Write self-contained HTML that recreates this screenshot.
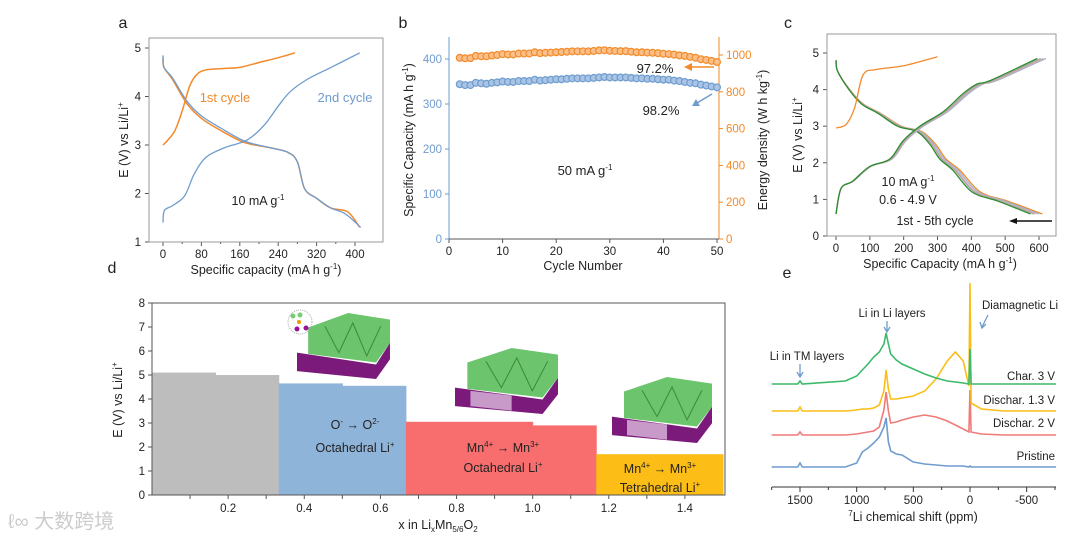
<!DOCTYPE html>
<html><head><meta charset="utf-8"><style>
body{margin:0;background:#fff;}
svg{display:block;font-family:"Liberation Sans","Noto Sans CJK SC",sans-serif;}
text{fill:#222;}
</style></head><body>
<svg id="fig" width="1080" height="541" viewBox="0 0 1080 541">
<text x="8" y="528" font-size="20" style="fill:#ccc">ℓ∞ 大数跨境</text>
</svg>
<script>
// ---------- DATA ----------
// panel a
const aCh1X=[0,10,25,40,55,70,90,130,160,200,240,275];
const aCh1Y=[3.0,3.1,3.3,3.7,4.2,4.45,4.55,4.58,4.6,4.7,4.8,4.9];
const aDis1X=[0,2,20,50,80,120,170,220,260,280,295,320,350,385,410];
const aDis1Y=[4.8,4.6,4.35,3.85,3.55,3.3,3.05,2.95,2.85,2.65,2.1,1.9,1.7,1.62,1.3];
const aDis2X=[0,2,20,50,80,120,170,220,260,280,295,320,350,380,412];
const aDis2Y=[4.85,4.6,4.38,3.9,3.6,3.35,3.08,2.95,2.85,2.65,2.1,1.9,1.7,1.58,1.3];
const aCh2X=[0,3,20,45,65,90,130,175,210,240,265,300,350,410];
const aCh2Y=[1.4,1.65,1.75,1.95,2.4,2.75,2.95,3.1,3.4,3.8,4.1,4.35,4.6,4.9];
// panel b
const bCycles=[2,3,4,5,6,7,8,9,10,11,12,13,14,15,16,17,18,19,20,21,22,23,24,25,26,27,28,29,30,31,32,33,34,35,36,37,38,39,40,41,42,43,44,45,46,47,48,49,50];
const bCap=[344,342,342,347,346,345,347,348,350,349,349,351,351,351,354,352,353,354,355,355,356,357,357,357,357,358,359,360,359,359,359,359,358,357,357,356,356,355,354,354,352,351,349,347,346,343,341,339,337];
const bEnergy=[985,982,983,995,993,993,997,1000,1005,1003,1003,1008,1008,1008,1015,1010,1012,1013,1015,1016,1018,1020,1020,1020,1020,1022,1025,1026,1023,1022,1021,1021,1018,1015,1015,1013,1012,1010,1007,1005,1002,998,995,990,985,977,973,968,962];
// panel c
const cDisBaseX=[0,5,40,80,130,190,250,290,320,360,420,500,600];
const cDisBaseY=[4.8,4.5,4.0,3.6,3.35,3.0,2.85,2.5,2.1,1.8,1.2,0.95,0.6];
const cChBaseX=[0,15,50,100,160,200,250,320,380,420,460,600];
const cChBaseY=[0.6,1.3,1.5,1.9,2.1,2.6,3.0,3.4,3.9,4.15,4.25,4.85];
const cDisEnd=[610,600,590,585,575];
const cChEnd=[620,612,605,595];
const cCh1X=[0,30,55,80,120,200,300];
const cCh1Y=[2.95,3.05,3.5,4.4,4.55,4.65,4.9];
// panel d
const dX0=[0,0.167,0.333,0.5,0.667,1.0,1.167];
const dX1=[0.167,0.333,0.5,0.667,1.0,1.167,1.5];
const dV=[5.1,5.0,4.65,4.55,3.05,2.9,1.7];
// panel e (ppm, intensity above baseline in px units)
const ePpm=[1750,1520,1500,1480,1100,1000,950,900,850,800,760,740,720,700,650,600,500,400,300,200,130,60,10,0,-10,-100,-300,-760];
const eGreen=[0,0,3,0,3,8,14,20,27,32,40,51,40,30,24,20,15,10,6,3,2,1,0,35,0,0,0,0];
const eYellow=[0,0,4,0,0,1,2,2,3,6,20,41,22,12,12,13,15,20,32,50,59,50,25,128,8,2,0,0];
const eRed=[0,0,3,0,0,1,2,3,4,8,25,43,24,12,13,15,18,20,18,14,10,6,3,45,3,1,0,0];
const eBlue=[0,0,4,0,0,4,15,19,24,30,40,49,25,16,13,12,5,3,2,1,1,1,0,1,0,0,0,0];

// ---------- HELPERS ----------
const svg=document.getElementById('fig');
const NS='http://www.w3.org/2000/svg';
function mk(tag,attrs,parent){const e=document.createElementNS(NS,tag);for(const k in attrs)e.setAttribute(k,attrs[k]);(parent||svg).appendChild(e);return e;}
function txt(x,y,s,size,anchor,color,parent){const t=mk('text',{x:x,y:y,'font-size':size||11,'text-anchor':anchor||'middle'},parent);if(color)t.style.fill=color;t.innerHTML=s;return t;}
function lin(d0,d1,r0,r1){return v=>r0+(v-d0)/(d1-d0)*(r1-r0);}
function pathD(xs,ys,fx,fy){return xs.map((x,i)=>(i?'L':'M')+fx(x).toFixed(1)+','+fy(ys[i]).toFixed(1)).join(' ');}
function smoothD(xs,ys,fx,fy){
 const P=xs.map((x,i)=>[fx(x),fy(ys[i])]);let d='M'+P[0][0].toFixed(1)+','+P[0][1].toFixed(1);
 for(let i=0;i<P.length-1;i++){const p0=P[i-1]||P[i],p1=P[i],p2=P[i+1],p3=P[i+2]||p2;
  const c1=[p1[0]+(p2[0]-p0[0])/6,p1[1]+(p2[1]-p0[1])/6],c2=[p2[0]-(p3[0]-p1[0])/6,p2[1]-(p3[1]-p1[1])/6];
  d+=' C'+c1.map(v=>v.toFixed(1)).join(',')+' '+c2.map(v=>v.toFixed(1)).join(',')+' '+p2.map(v=>v.toFixed(1)).join(',');}
 return d;}
function box(x0,y0,x1,y1,color){mk('rect',{x:x0,y:y0,width:x1-x0,height:y1-y0,fill:'none',stroke:color||'#777','stroke-width':1});}
const OR='#f28a2a',BL='#6f9ccf';

// ---------- PANEL A ----------
{
const g=mk('g',{});
const fx=lin(0,400,163,355),fy=lin(1,5,242,48);
box(149,38,383,242,'#999');
txt(123,28,'a',16,'middle');
[0,80,160,240,320,400].forEach(v=>{mk('line',{x1:fx(v),y1:242,x2:fx(v),y2:246,stroke:'#555'},g);txt(fx(v),258,v,11.5,'middle',null,g);});
[40,120,200,280,360].forEach(v=>mk('line',{x1:fx(v),y1:242,x2:fx(v),y2:244,stroke:'#555'},g));
[1,2,3,4,5].forEach(v=>{mk('line',{x1:149,y1:fy(v),x2:145,y2:fy(v),stroke:'#555'},g);txt(141,fy(v)+4,v,11.5,'end',null,g);});
txt(266,274,'Specific capacity (mA h g<tspan dy="-5" font-size="8">-1</tspan><tspan dy="5">)</tspan>',12.5,'middle',null,g);
const yl=txt(0,0,'E (V) vs Li/Li<tspan dy="-5" font-size="8">+</tspan>',12.5,'middle',null,g);yl.setAttribute('transform','translate(128,140) rotate(-90)');
const p1=mk('path',{d:smoothD(aDis1X,aDis1Y,fx,fy),fill:'none',stroke:OR,'stroke-width':1.5},g);
const p2=mk('path',{d:smoothD(aDis2X,aDis2Y,fx,fy),fill:'none',stroke:BL,'stroke-width':1.3},g);
const p3=mk('path',{d:smoothD(aCh2X,aCh2Y,fx,fy),fill:'none',stroke:BL,'stroke-width':1.3},g);
const p4=mk('path',{d:smoothD(aCh1X,aCh1Y,fx,fy),fill:'none',stroke:OR,'stroke-width':1.5},g);
txt(225,102,'1st cycle',13,'middle',OR,g);
txt(345,102,'2nd cycle',13,'middle',BL,g);
txt(258,205,'10 mA g<tspan dy="-5" font-size="8">-1</tspan>',12.5,'middle',null,g);
}

// ---------- PANEL B ----------
{
const g=mk('g',{});
const fx=lin(0,50,449,717),fy=lin(0,400,239,59),fy2=lin(0,1000,239,55);
mk('line',{x1:449,y1:37,x2:449,y2:239,stroke:BL},g);
mk('line',{x1:719,y1:37,x2:719,y2:239,stroke:OR},g);
mk('line',{x1:449,y1:239,x2:719,y2:239,stroke:'#555'},g);
txt(403,28,'b',16,'middle');
[0,10,20,30,40,50].forEach(v=>{mk('line',{x1:fx(v),y1:239,x2:fx(v),y2:243,stroke:'#555'},g);txt(fx(v),255,v,11.5,'middle',null,g);});
[0,100,200,300,400].forEach(v=>{mk('line',{x1:449,y1:fy(v),x2:445,y2:fy(v),stroke:BL},g);txt(442,fy(v)+4,v,11.5,'end',BL,g);});
[0,200,400,600,800,1000].forEach(v=>{mk('line',{x1:719,y1:fy2(v),x2:723,y2:fy2(v),stroke:OR},g);txt(726,fy2(v)+4,v,11.5,'start',OR,g);});
txt(583,270,'Cycle Number',12.5,'middle',null,g);
let t=txt(0,0,'Specific Capacity (mA h g<tspan dy="-5" font-size="8">-1</tspan><tspan dy="5">)</tspan>',12.5,'middle',null,g);t.setAttribute('transform','translate(413,140) rotate(-90)');
t=txt(0,0,'Energy density (W h kg<tspan dy="-5" font-size="8">-1</tspan><tspan dy="5">)</tspan>',12.5,'middle',null,g);t.setAttribute('transform','translate(767,140) rotate(-90)');
bCycles.forEach((c,i)=>{
 const a=mk('circle',{cx:fx(c),cy:fy(bCap[i]),r:3.4,fill:'#a9c4e4',stroke:BL,'stroke-width':1.2},g);
 
 const b=mk('circle',{cx:fx(c),cy:fy2(bEnergy[i]),r:3.4,fill:'#fbc08a',stroke:OR,'stroke-width':1.2},g);
 
});
txt(655,73,'97.2%',13,'middle',null,g);
mk('line',{x1:714,y1:67,x2:690,y2:67,stroke:OR,'stroke-width':1.5},g);
mk('path',{d:'M684,67 L692,63 L692,71 Z',fill:OR},g);
txt(661,115,'98.2%',13,'middle',null,g);
mk('line',{x1:712,y1:94,x2:697,y2:103,stroke:BL,'stroke-width':1.5},g);
mk('path',{d:'M692,106 L696,99 L700,106 Z',fill:BL},g);
txt(585,175,'50 mA g<tspan dy="-5" font-size="8">-1</tspan>',13,'middle',null,g);
}

// ---------- PANEL C ----------
{
const g=mk('g',{});
const fx=lin(0,600,836,1039),fy=lin(0,5,236,53);
box(827,34,1056,236,'#999');
txt(788,28,'c',16,'middle');
[0,100,200,300,400,500,600].forEach(v=>{mk('line',{x1:fx(v),y1:236,x2:fx(v),y2:240,stroke:'#555'},g);txt(fx(v),252,v,11.5,'middle',null,g);});
[0,1,2,3,4,5].forEach(v=>{mk('line',{x1:827,y1:fy(v),x2:823,y2:fy(v),stroke:'#555'},g);txt(819,fy(v)+4,v,11.5,'end',null,g);});
txt(940,268,'Specific Capacity (mA h g<tspan dy="-5" font-size="8">-1</tspan><tspan dy="5">)</tspan>',12.5,'middle',null,g);
const t=txt(0,0,'E (V) vs Li/Li<tspan dy="-5" font-size="8">+</tspan>',12.5,'middle',null,g);t.setAttribute('transform','translate(802,135) rotate(-90)');
const dcol=[OR,'#9db5d6','#e0a7a0','#a8a8a8','#2e8b2e'];
cDisEnd.forEach((C,i)=>{const p=mk('path',{d:smoothD(cDisBaseX.map(x=>x*C/600),cDisBaseY,fx,fy),fill:'none',stroke:dcol[i],'stroke-width':1.3},g);
 });
const ccol=['#9db5d6','#e0a7a0','#a8a8a8','#2e8b2e'];
cChEnd.forEach((C,i)=>{const p=mk('path',{d:smoothD(cChBaseX.map(x=>x*C/600),cChBaseY,fx,fy),fill:'none',stroke:ccol[i],'stroke-width':1.3},g);
 });
const p=mk('path',{d:smoothD(cCh1X,cCh1Y,fx,fy),fill:'none',stroke:OR,'stroke-width':1.3},g);
txt(908,186,'10 mA g<tspan dy="-5" font-size="8">-1</tspan>',12.5,'middle',null,g);
txt(908,204,'0.6 - 4.9 V',12.5,'middle',null,g);
txt(935,225,'1st - 5th cycle',12.5,'middle',null,g);
mk('line',{x1:1052,y1:221,x2:1015,y2:221,stroke:'#111','stroke-width':1.5},g);
mk('path',{d:'M1009,221 L1017,218 L1017,224 Z',fill:'#111'},g);
}

// ---------- PANEL D ----------
{
const g=mk('g',{});
const fx=lin(0,1.5,152,723),fy=lin(0,8,495,303);
txt(112,273,'d',16,'middle');
const cols=['#bdbdbd','#bdbdbd','#8fb4d9','#8fb4d9','#f86e6e','#f86e6e','#fbbd16'];
dV.forEach((v,i)=>{const r=mk('rect',{x:fx(dX0[i]),y:fy(v),width:fx(dX1[i])-fx(dX0[i])+0.5,height:fy(0)-fy(v),fill:cols[i]},g);
 });
mk('path',{d:'M152,303 L725,303 L725,495 L152,495 Z',fill:'none',stroke:'#555'},g);
[0,1,2,3,4,5,6,7,8].forEach(v=>{mk('line',{x1:152,y1:fy(v),x2:148,y2:fy(v),stroke:'#555'},g);txt(145,fy(v)+4,v,11.5,'end',null,g);});
[0.1,0.2,0.3,0.4,0.5,0.6,0.7,0.8,0.9,1.0,1.1,1.2,1.3,1.4].forEach(v=>mk('line',{x1:fx(v),y1:495,x2:fx(v),y2:499,stroke:'#555'},g));
['0.2','0.4','0.6','0.8','1.0','1.2','1.4'].forEach(s=>txt(fx(+s),512,s,11.5,'middle',null,g));
txt(438,529,'x in Li<tspan dy="3" font-size="8">x</tspan><tspan dy="-3">Mn</tspan><tspan dy="3" font-size="8">5/6</tspan><tspan dy="-3">O</tspan><tspan dy="3" font-size="8">2</tspan>',12.5,'middle',null,g);
const t=txt(0,0,'E (V) vs Li/Li<tspan dy="-5" font-size="8">+</tspan>',12.5,'middle',null,g);t.setAttribute('transform','translate(122,400) rotate(-90)');
txt(355,429,'O<tspan dy="-5" font-size="8">-</tspan><tspan dy="5"> → O</tspan><tspan dy="-5" font-size="8">2-</tspan>',12.5,'middle',null,g);
txt(355,452,'Octahedral Li<tspan dy="-5" font-size="8">+</tspan>',12.5,'middle',null,g);
txt(503,452,'Mn<tspan dy="-5" font-size="8">4+</tspan><tspan dy="5"> → Mn</tspan><tspan dy="-5" font-size="8">3+</tspan>',12.5,'middle',null,g);
txt(503,472,'Octahedral Li<tspan dy="-5" font-size="8">+</tspan>',12.5,'middle',null,g);
txt(660,473,'Mn<tspan dy="-5" font-size="8">4+</tspan><tspan dy="5"> → Mn</tspan><tspan dy="-5" font-size="8">3+</tspan>',12.5,'middle',null,g);
txt(660,492,'Tetrahedral Li<tspan dy="-5" font-size="8">+</tspan>',12.5,'middle',null,g);
function crystal(x,y,w,h,pink){
 const c=mk('g',{},g);
 mk('path',{d:`M${x},${y+h*0.6} L${x+w*0.85},${y+h*0.78} L${x+w},${y+h*0.45} L${x+w},${y+h*0.7} L${x+w*0.85},${y+h} L${x},${y+h*0.88} Z`,fill:'#7b1a7b'},c);
 if(pink)mk('path',{d:`M${x+w*0.15},${y+h*0.65} L${x+w*0.55},${y+h*0.72} L${x+w*0.55},${y+h*0.95} L${x+w*0.15},${y+h*0.88} Z`,fill:'#c79ac9'},c);
 mk('path',{d:`M${x+w*0.12},${y+h*0.22} L${x+w*0.55},${y} L${x+w},${y+h*0.1} L${x+w},${y+h*0.45} L${x+w*0.85},${y+h*0.75} L${x+w*0.12},${y+h*0.62} Z`,fill:'#6cc46c'},c);
 mk('path',{d:`M${x+w*0.3},${y+h*0.2} L${x+w*0.45},${y+h*0.6} L${x+w*0.6},${y+h*0.15} L${x+w*0.75},${y+h*0.65} L${x+w*0.9},${y+h*0.2}`,fill:'none',stroke:'#3a8a3a','stroke-width':1},c);
}
crystal(297,313,93,66,false);
crystal(455,348,103,66,true);
crystal(612,377,100,66,true);
mk('circle',{cx:300,cy:322,r:12,fill:'none',stroke:'#aaa','stroke-dasharray':'1,1'},g);
mk('circle',{cx:293,cy:316,r:2.5,fill:'#7c7'},g);mk('circle',{cx:300,cy:315,r:2.5,fill:'#7c7'},g);
mk('circle',{cx:297,cy:329,r:2.5,fill:'#919'},g);mk('circle',{cx:306,cy:328,r:2.5,fill:'#919'},g);
mk('circle',{cx:299,cy:322,r:2,fill:'#e90'},g);
}

// ---------- PANEL E ----------
{
const g=mk('g',{});
const fx=lin(1500,0,800,970);
txt(787,278,'e',16,'middle');
mk('line',{x1:772,y1:487,x2:1056,y2:487,stroke:'#333'},g);
[1500,1000,500,0,-500].forEach(v=>{mk('line',{x1:fx(v),y1:487,x2:fx(v),y2:492,stroke:'#333'},g);txt(fx(v),504,v,11.5,'middle',null,g);});
[1750,1250,750,250,-250,-750].forEach(v=>mk('line',{x1:fx(v),y1:487,x2:fx(v),y2:490,stroke:'#333'},g));
txt(913,521,'<tspan dy="-5" font-size="8">7</tspan><tspan dy="5">Li chemical shift (ppm)</tspan>',12.5,'middle',null,g);
const series=[[eBlue,467,'#6f9ccf','pristine-spectrum'],[eRed,435,'#f07a78','dischar-2v-spectrum'],[eYellow,411,'#fbbd16','dischar-1-3v-spectrum'],[eGreen,384,'#3cb96a','char-3v-spectrum']];
series.forEach(s=>{const p=mk('path',{d:pathD(ePpm,s[0],fx,v=>s[1]-v),fill:'none',stroke:s[2],'stroke-width':1.6},g);
 });
txt(1055,380,'Char. 3 V',11.5,'end',null,g);
txt(1055,404,'Dischar. 1.3 V',11.5,'end',null,g);
txt(1055,427,'Dischar. 2 V',11.5,'end',null,g);
txt(1055,460,'Pristine',11.5,'end',null,g);
txt(807,360,'Li in TM layers',11.5,'middle',null,g);
txt(892,317,'Li in Li layers',11.5,'middle',null,g);
txt(1020,309,'Diamagnetic Li',11.5,'middle',null,g);
mk('path',{d:'M800,364 L800,376 M797,372 L800,377 L803,372',fill:'none',stroke:BL,'stroke-width':1.3},g);
mk('path',{d:'M887,321 L887,331 M884,327 L887,332 L890,327',fill:'none',stroke:BL,'stroke-width':1.3},g);
mk('path',{d:'M988,315 L982,327 M980,322 L982,328 L986,324',fill:'none',stroke:BL,'stroke-width':1.3},g);
}
</script>
</body></html>
